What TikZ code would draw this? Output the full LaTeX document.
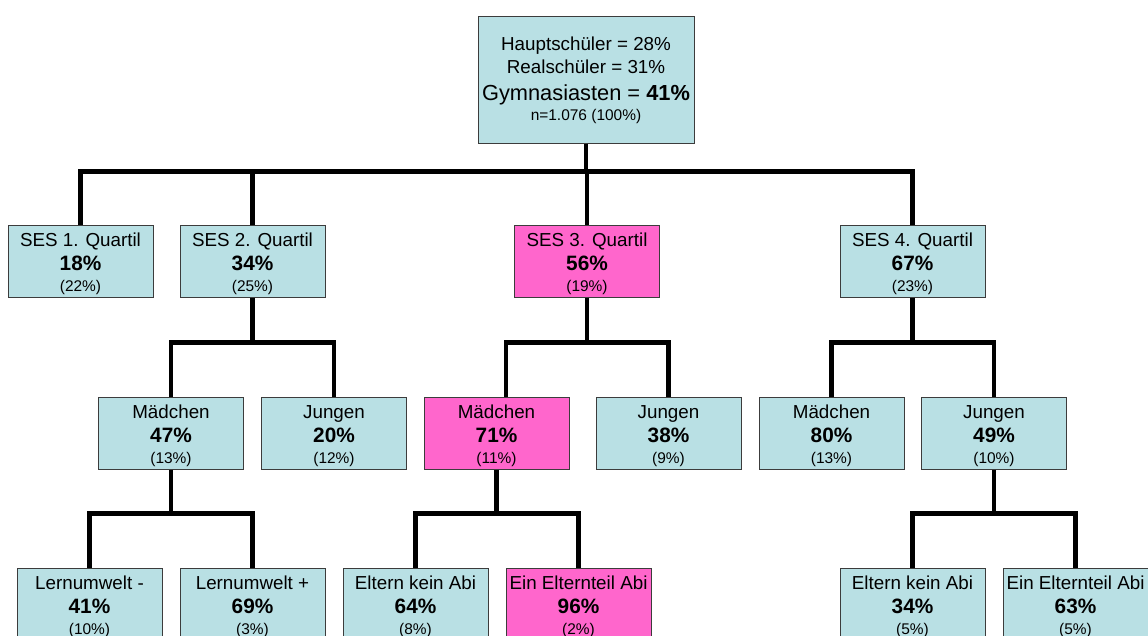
\documentclass[tikz,border=0pt]{standalone}
\usepackage{fontspec}
\setmainfont{Liberation Sans}
\definecolor{boxblue}{RGB}{185,224,228}
\definecolor{boxpink}{RGB}{255,102,204}
\definecolor{boxline}{RGB}{60,60,60}
\newcommand\nodetext[3]{\rule{0pt}{14.5pt}#1\\{\bfseries\fontsize{15.6}{17.8}\selectfont #2\%}\\[-1.5pt]{\fontsize{11.6}{13}\selectfont (#3\%)}}
\begin{document}
\begin{tikzpicture}[x=0.75pt,y=-0.75pt,
  box/.style={draw=boxline,line width=0.75pt,fill=boxblue,minimum width=108.75pt,minimum height=54pt,inner sep=0pt,align=center,font=\fontsize{14.1}{17.8}\selectfont},
  hl/.style={fill=boxpink},
  conn/.style={line width=3.2pt}]
\useasboundingbox (0,0) rectangle (1148,635);
\clip (0,0) rectangle (1148,635);
% root
\node[box,minimum width=162pt,minimum height=94.5pt,font=\fontsize{14.1}{17.25}\selectfont] (top) at (586,80)
  {Hauptschüler = 28\%\\[0.5pt]Realschüler = 31\%\\[2.5pt]{\fontsize{16.35}{17.25}\selectfont Gymnasiasten = \textbf{41\%}}\\[-2pt]{\fontsize{11.6}{13}\selectfont n=1.076 (100\%)}};
% level 1
\node[box] (s1) at (80.5,261) {\nodetext{SES 1. Quartil}{18}{22}};
\node[box] (s2) at (252.5,261) {\nodetext{SES 2. Quartil}{34}{25}};
\node[box,hl] (s3) at (587,261) {\nodetext{SES 3. Quartil}{56}{19}};
\node[box] (s4) at (912.5,261) {\nodetext{SES 4. Quartil}{67}{23}};
% level 2
\node[box] (m2) at (171,433) {\nodetext{Mädchen}{47}{13}};
\node[box] (j2) at (334,433) {\nodetext{Jungen}{20}{12}};
\node[box,hl] (m3) at (496.5,433) {\nodetext{Mädchen}{71}{11}};
\node[box] (j3) at (668.5,433) {\nodetext{Jungen}{38}{9}};
\node[box] (m4) at (831.5,433) {\nodetext{Mädchen}{80}{13}};
\node[box] (j4) at (994,433) {\nodetext{Jungen}{49}{10}};
% level 3
\node[box] (l1) at (89.5,604) {\nodetext{Lernumwelt -}{41}{10}};
\node[box] (l2) at (252.5,604) {\nodetext{Lernumwelt +}{69}{3}};
\node[box] (e3) at (415.5,604) {\nodetext{Eltern kein Abi}{64}{8}};
\node[box,hl] (a3) at (578.5,604) {\nodetext{Ein Elternteil Abi}{96}{2}};
\node[box] (e4) at (912.5,604) {\nodetext{Eltern kein Abi}{34}{5}};
\node[box] (a4) at (1075.5,604) {\nodetext{Ein Elternteil Abi}{63}{5}};
% connectors
\draw[conn] (top.south) -- ++(0,28) coordinate (b0);
\draw[conn] (s1.north) |- (b0);
\draw[conn] (s2.north) |- (b0);
\draw[conn] (s3.north) |- (b0);
\draw[conn] (s4.north) |- (b0);
\draw[conn] (s2.south) -- ++(0,45) coordinate (b2);
\draw[conn] (m2.north) |- (b2);
\draw[conn] (j2.north) |- (b2);
\draw[conn] (s3.south) -- ++(0,45) coordinate (b3);
\draw[conn] ([xshift=7.1pt]m3.north) |- (b3);
\draw[conn] (j3.north) |- (b3);
\draw[conn] (s4.south) -- ++(0,45) coordinate (b4);
\draw[conn] (m4.north) |- (b4);
\draw[conn] (j4.north) |- (b4);
\draw[conn] (m2.south) -- ++(0,44) coordinate (c2);
\draw[conn] (l1.north) |- (c2);
\draw[conn] (l2.north) |- (c2);
\draw[conn] (m3.south) -- ++(0,44) coordinate (c3);
\draw[conn] (e3.north) |- (c3);
\draw[conn] (a3.north) |- (c3);
\draw[conn] (j4.south) -- ++(0,44) coordinate (c4);
\draw[conn] (e4.north) |- (c4);
\draw[conn] (a4.north) |- (c4);
\end{tikzpicture}
\end{document}
